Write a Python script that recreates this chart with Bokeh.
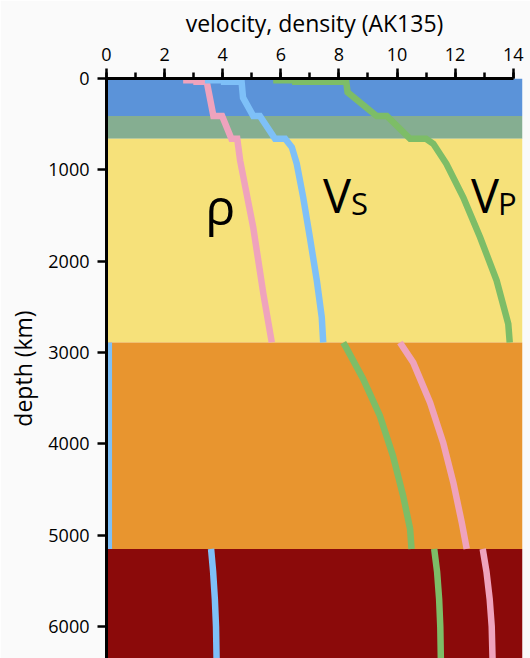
from bokeh.plotting import figure
from bokeh.models import Range1d, SingleIntervalTicker, FixedTicker, Label, BoxAnnotation
from bokeh.embed import file_html
from bokeh.resources import INLINE

# ---- data ----
layer_top = [0, 410, 660, 2891, 5150]
layer_bottom = [410, 660, 2891, 5150, 6371]
layer_colors = ["#5b93d9", "#85ae91", "#f6e17a", "#e8952f", "#8b0a0a"]

# mantle + crust
mantle_vp_depth = [0, 20, 20, 35, 35, 150, 410, 410, 660, 660, 715, 934, 1300, 1738, 2212, 2686, 2891]
mantle_vp = [5.85, 5.85, 6.5, 6.5, 8.25, 8.3, 9.3, 9.65, 10.45, 11.0, 11.25, 11.7, 12.28, 12.86, 13.43, 13.83, 13.88]

mantle_vs_depth = [0, 20, 20, 35, 35, 210, 410, 410, 660, 660, 752, 934, 1300, 1738, 2212, 2614, 2891]
mantle_vs = [3.5, 3.5, 4.05, 4.05, 4.65, 4.7, 5.05, 5.28, 5.8, 6.15, 6.38, 6.55, 6.77, 7.0, 7.24, 7.41, 7.46]

mantle_rho_depth = [0, 20, 20, 35, 35, 410, 410, 660, 660, 898, 1629, 2358, 2891]
mantle_rho = [2.75, 2.75, 3.1, 3.1, 3.45, 3.68, 3.98, 4.3, 4.5, 4.6, 5.05, 5.4, 5.69]

# outer core
outer_vp_depth = [2891, 2957, 3286, 3691, 4129, 4567, 4929, 5150]
outer_vp = [8.15, 8.27, 8.83, 9.41, 9.86, 10.21, 10.45, 10.5]

outer_rho_depth = [2891, 3111, 3549, 3987, 4425, 4863, 5150]
outer_rho = [10.1, 10.56, 11.14, 11.59, 11.94, 12.23, 12.4]

outer_vs_depth = [2891, 5150]
outer_vs = [0.08, 0.08]

# inner core
inner_depth = [5150, 5400, 5700, 6000, 6371]
inner_vp = [11.28, 11.38, 11.45, 11.49, 11.51]
inner_vs = [3.60, 3.67, 3.73, 3.77, 3.79]
inner_rho = [12.95, 13.08, 13.19, 13.26, 13.29]

x_ticks = [0, 2, 4, 6, 8, 10, 12, 14]
y_ticks = [0, 1000, 2000, 3000, 4000, 5000, 6000]

VP_COLOR = "#7dbd67"
VS_COLOR = "#7ec0f8"
RHO_COLOR = "#efa3bd"
FONT = "Open Sans"

p = figure(frame_width=416, frame_height=580,
           x_range=Range1d(0, 14.32), y_range=Range1d(6350, 0),
           x_axis_location="above", output_backend="svg", toolbar_location=None,
           min_border_left=106, min_border_right=8, min_border_top=78, min_border_bottom=0,
           border_fill_color="#fafafa", background_fill_color="#fafafa",
           outline_line_color=None)

p.xgrid.visible = False
p.ygrid.visible = False

for t, b, c in zip(layer_top, layer_bottom, layer_colors):
    p.add_layout(BoxAnnotation(top=t, bottom=b, fill_color=c, fill_alpha=1.0,
                               line_color=None, level="underlay"))

def draw(xs, ys, color):
    p.line(xs, ys, line_color=color, line_width=6.5, line_join="miter", line_cap="butt")

draw(mantle_rho, mantle_rho_depth, RHO_COLOR)
draw(mantle_vs, mantle_vs_depth, VS_COLOR)
draw(mantle_vp, mantle_vp_depth, VP_COLOR)
draw(outer_vs, outer_vs_depth, VS_COLOR)
draw(outer_vp, outer_vp_depth, VP_COLOR)
draw(outer_rho, outer_rho_depth, RHO_COLOR)
draw(inner_vs, inner_depth, VS_COLOR)
draw(inner_vp, inner_depth, VP_COLOR)
draw(inner_rho, inner_depth, RHO_COLOR)

# axes
xa = p.xaxis[0]
xa.ticker = SingleIntervalTicker(interval=2, num_minor_ticks=2)
xa.bounds = (0, 14)
xa.axis_label = "velocity, density (AK135)"
ya = p.yaxis[0]
ya.ticker = FixedTicker(ticks=y_ticks)

for ax in (xa, ya):
    ax.axis_line_color = "black"
    ax.axis_line_width = 3
    ax.major_tick_line_color = "black"
    ax.major_tick_line_width = 2.5
    ax.major_tick_in = 0
    ax.major_label_text_font = FONT
    ax.major_label_text_font_size = "18px"
    ax.major_label_text_color = "black"
    ax.axis_label_text_font = FONT
    ax.axis_label_text_font_size = "23px"
    ax.axis_label_text_font_style = "normal"
    ax.axis_label_text_color = "black"

xa.major_tick_out = 10
xa.minor_tick_out = 6
xa.minor_tick_in = 0
xa.minor_tick_line_color = "black"
xa.minor_tick_line_width = 2.5
xa.major_label_standoff = 8
xa.axis_label_standoff = 6

ya.axis_label = "depth (km)"
ya.major_tick_out = 9
ya.minor_tick_line_color = None
ya.major_label_standoff = 8
ya.axis_label_standoff = 6

# curve labels
def lab(x, y, text, size):
    p.add_layout(Label(x=x, y=y, text=text, text_font=FONT, text_font_size=size,
                       text_color="black", text_align="left", text_baseline="alphabetic"))

lab(3.4, 1400, "ρ", "50px")
lab(7.45, 1270, "V", "47px")
lab(8.42, 1360, "S", "31px")
lab(12.55, 1270, "V", "47px")
lab(13.48, 1360, "P", "31px")

open("out.html", "w").write(file_html(p, INLINE))
